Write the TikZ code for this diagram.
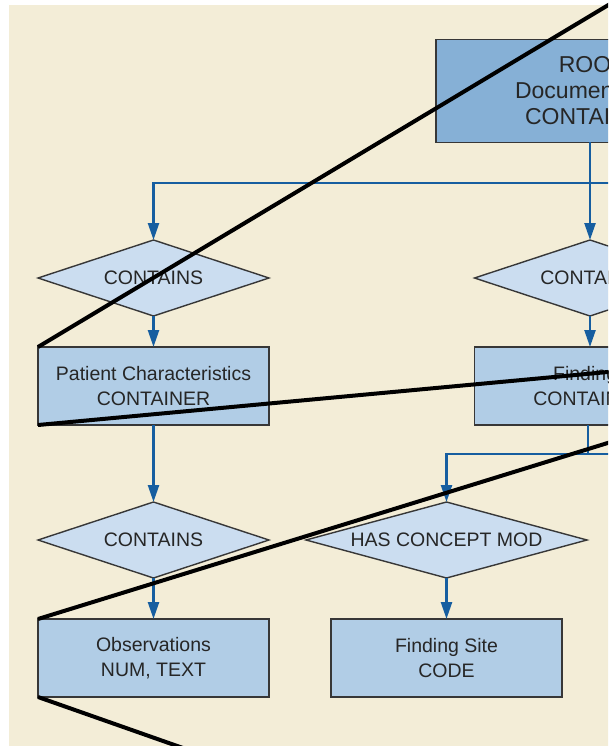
\documentclass[tikz,border=0pt]{standalone}
\usepackage{fontspec}
\setmainfont{Liberation Sans}
\usetikzlibrary{positioning,shapes.geometric,arrows.meta}

\definecolor{paper}{RGB}{243,237,215}
\definecolor{rootblue}{RGB}{134,176,214}
\definecolor{boxblue}{RGB}{177,205,230}
\definecolor{relblue}{RGB}{203,221,240}
\definecolor{linkblue}{RGB}{22,94,160}
\definecolor{edgegray}{RGB}{55,55,55}

\tikzset{
  container/.style={rectangle, draw=edgegray, line width=1.4pt, fill=boxblue, minimum width=231pt, minimum height=78pt, inner sep=0pt, outer sep=0pt, align=center, text=black!85, font=\fontsize{19.5}{25}\selectfont},
  relation/.style={diamond, draw=edgegray, line width=1.4pt, fill=relblue, minimum width=231pt, minimum height=76pt, aspect=3, inner sep=0pt, outer sep=0pt, text=black!85, font=\fontsize{19.5}{25}\selectfont},
  link/.style={draw=linkblue, line width=2.4pt},
  linkarrow/.style={link, -{Triangle[length=17pt,width=11pt]}},
  zoomline/.style={black, line width=4pt},
}

\begin{document}
\begin{tikzpicture}[x=1pt, y=-1pt]
    \useasboundingbox (0,0) rectangle (608,746);
    \clip (0,0) rectangle (608,746);
    \fill[paper] (9,5) rectangle (620,760);

    % Main components
    \node[container, fill=rootblue, minimum width=312pt, minimum height=103pt, font=\fontsize{23}{26}\selectfont] (root) at (592,91) {ROOT\\Document Title\\CONTAINER};
    \node[relation] (hasleft) at (153.5,278) {CONTAINS};
    \node[relation] (hasright) at (590,278) {CONTAINS};
    \node[container, below=31pt of hasleft] (patient) {Patient Characteristics\\CONTAINER};
    \node[container, below=31pt of hasright] (findings) {Findings\\CONTAINER};
    \node[relation, below=77pt of patient] (hasobs) {CONTAINS};
    \node[container, below=41pt of hasobs] (obs) {Observations\\NUM, TEXT};
    \node[relation, minimum width=281pt, aspect=3.7] (modifier) at (446.5,540) {HAS CONCEPT MOD};
    \node[container, below=41pt of modifier] (site) {Finding Site\\CODE};

    % Data flow
    \coordinate (split) at (590,183);
    \coordinate (branch) at (588,454);
    \draw[link] (root.south -| split) -- (split) -- ++(60,0);
    \draw[linkarrow] (split) -- (hasright.north);
    \draw[linkarrow] (split) -| (hasleft.north);
    \draw[linkarrow] (hasleft) -- (patient);
    \draw[linkarrow] (hasright) -- (findings);
    \draw[linkarrow] (patient) -- (hasobs);
    \draw[link] (findings.south -| branch) -- (branch) -- ++(60,0);
    \draw[linkarrow] (branch) -| (modifier.north);
    \draw[linkarrow] (hasobs) -- (obs);
    \draw[linkarrow] (modifier) -- (site);

    % Zoom lines
    \draw[zoomline] (patient.north west) -- (640,-14);
    \draw[zoomline] (patient.south west) -- (640,369);
    \draw[zoomline] (obs.north west) -- (640,433);
    \draw[zoomline] (obs.south west) -- (200,754);
\end{tikzpicture}
\end{document}
